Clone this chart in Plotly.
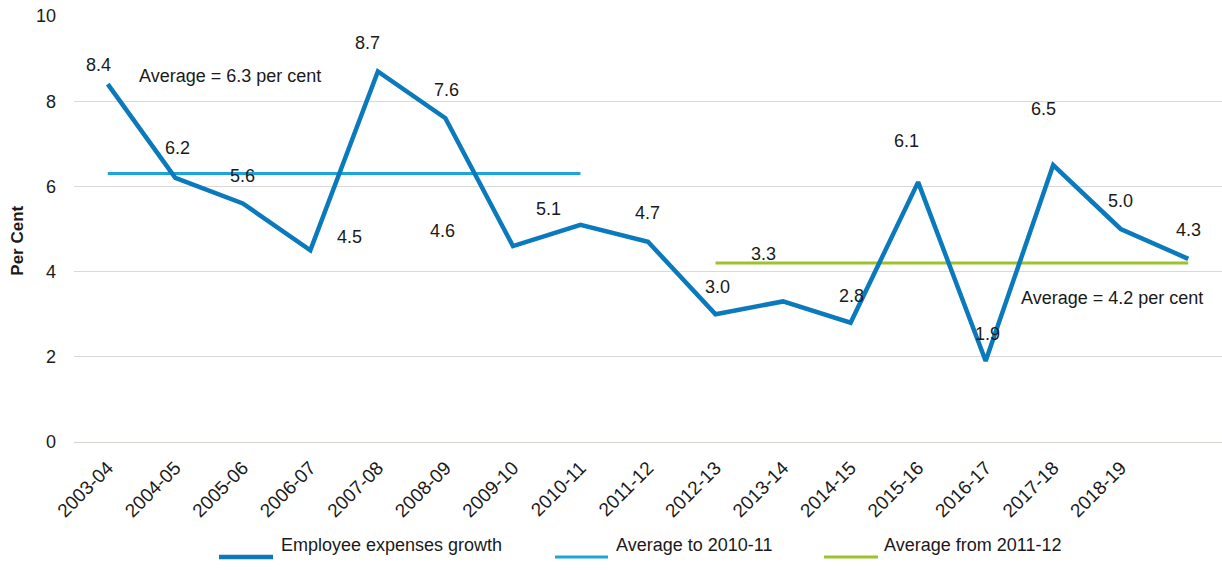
import plotly.graph_objects as go

# Financial years shown on the category axis (the final point carries no tick label)
years = ["2003-04", "2004-05", "2005-06", "2006-07", "2007-08", "2008-09",
         "2009-10", "2010-11", "2011-12", "2012-13", "2013-14", "2014-15",
         "2015-16", "2016-17", "2017-18", "2018-19"]

# Annual growth in employee expenses, per cent
growth = [8.4, 6.2, 5.6, 4.5, 8.7, 7.6, 4.6, 5.1, 4.7, 3.0, 3.3, 2.8,
          6.1, 1.9, 6.5, 5.0, 4.3]

# Period averages and the point indices each average line spans
avg_early = 6.3
avg_early_span = [0, 7]
avg_late = 4.2
avg_late_span = [9, 16]

# Pixel nudges for each value label (dx right, dy up)
label_dx = [-9, 2, 0, 39, -10, 1, -70, -32, -1, 2, -20, 1, -12, 2, -10, 0, 0]
label_dy = [19, 30, 27, 13, 28, 28, 15, 16, 29, 27, 47, 27, 41, 27, 56, 28, 29]

DARK = "#0A7ABD"
LIGHT = "#1DA4DC"
GREEN = "#9CC32B"
FONT = "Liberation Sans, Arial, sans-serif"
TXT = "#1a1a1a"

x_idx = list(range(len(growth)))

fig = go.Figure()

fig.add_trace(go.Scatter(
    x=avg_early_span, y=[avg_early, avg_early], mode="lines",
    line=dict(color=LIGHT, width=3), name="Average to 2010-11",
    showlegend=False, hoverinfo="skip"))
fig.add_trace(go.Scatter(
    x=avg_late_span, y=[avg_late, avg_late], mode="lines",
    line=dict(color=GREEN, width=3), name="Average from 2011-12",
    showlegend=False, hoverinfo="skip"))
fig.add_trace(go.Scatter(
    x=x_idx, y=growth, mode="lines",
    line=dict(color=DARK, width=4.5), name="Employee expenses growth",
    showlegend=False))

# Value labels
for i, v in enumerate(growth):
    fig.add_annotation(x=i, y=v, text=f"{v:.1f}", showarrow=False,
                       xshift=label_dx[i], yshift=label_dy[i],
                       font=dict(family=FONT, size=18, color=TXT))

# Average call-outs
fig.add_annotation(x=0.43, y=8.6, text=f"Average = {avg_early:.1f} per cent",
                   showarrow=False, xanchor="left",
                   font=dict(family=FONT, size=18, color=TXT))
fig.add_annotation(x=13.5, y=3.38, text=f"Average = {avg_late:.1f} per cent",
                   showarrow=False, xanchor="left",
                   font=dict(family=FONT, size=18, color=TXT))

# Y-axis title
fig.add_annotation(xref="paper", yref="paper", x=-0.049, y=0.472,
                   xanchor="center", yanchor="middle",
                   text="<b>Per Cent</b>", textangle=-90, showarrow=False,
                   font=dict(family=FONT, size=17, color=TXT))

# Legend drawn along the bottom
legend_items = [("Employee expenses growth", DARK, 4.5, 219, 273, 279),
                ("Average to 2010-11", LIGHT, 3, 555, 608, 614),
                ("Average from 2011-12", GREEN, 3, 824, 878, 882)]
px_w, px_l = 1148, 74
ly = (442 - 557) / 426
for name, col, w, x0, x1, xt in legend_items:
    fig.add_shape(type="line", xref="paper", yref="paper",
                  x0=(x0 - px_l) / px_w, x1=(x1 - px_l) / px_w, y0=ly, y1=ly,
                  line=dict(color=col, width=w))
    fig.add_annotation(xref="paper", yref="paper", x=(xt - px_l) / px_w, y=ly,
                       text=name, showarrow=False, xanchor="left",
                       font=dict(family=FONT, size=18, color=TXT))

fig.update_layout(
    width=1222, height=570,
    margin=dict(l=74, r=0, t=16, b=128),
    paper_bgcolor="white", plot_bgcolor="white",
    showlegend=False,
    font=dict(family=FONT, size=18, color=TXT),
)
fig.update_xaxes(
    range=[-0.5, len(growth) - 0.5],
    tickmode="array", tickvals=list(range(len(years))), ticktext=years,
    tickangle=-45, showgrid=False, zeroline=False, showline=False,
    ticks="", ticklabelstandoff=10,
    tickfont=dict(family=FONT, size=19, color=TXT),
)
fig.update_yaxes(
    range=[0, 10], dtick=2, showgrid=True, gridcolor="#D9D9D9", gridwidth=1,
    zeroline=True, zerolinecolor="#D6D2CE", zerolinewidth=1.3,
    showline=False, ticks="", ticklabelstandoff=17,
    tickfont=dict(family=FONT, size=18, color=TXT),
)

fig.write_html("out.html")
